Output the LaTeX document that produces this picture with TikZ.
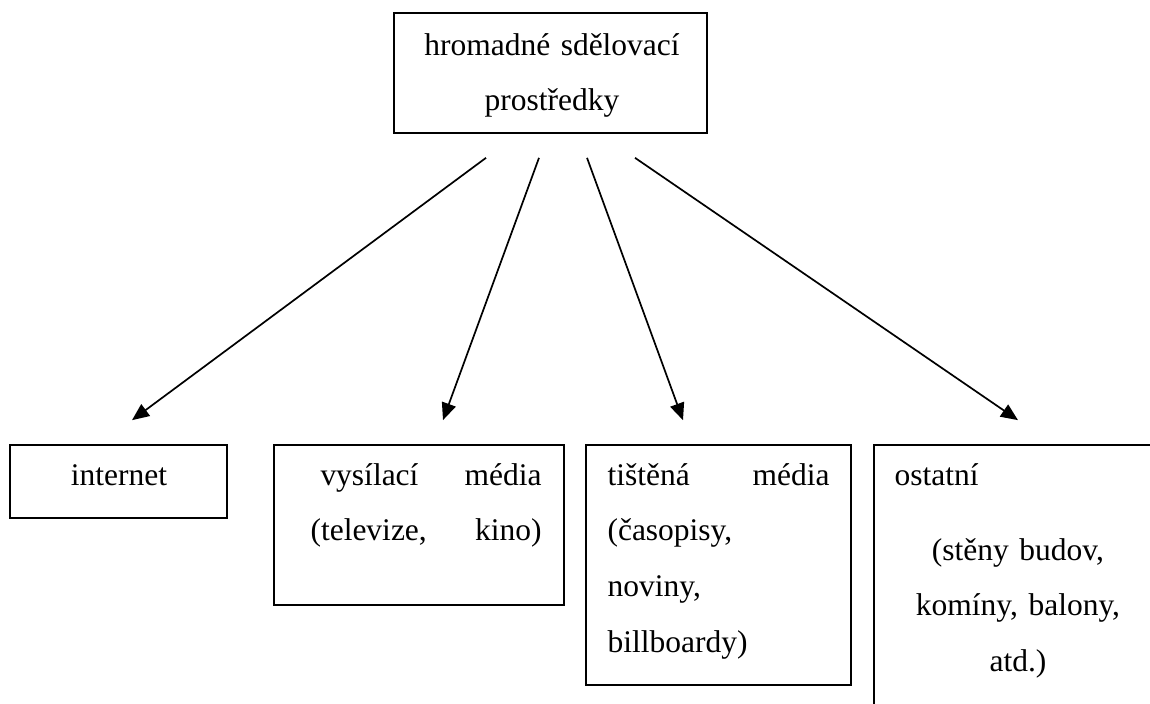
\documentclass[tikz,border=0pt]{standalone}
\usepackage{fontspec}
\setmainfont{Liberation Serif}
\usetikzlibrary{arrows.meta,calc}

\begin{document}
\begin{tikzpicture}[
    x=0.381pt, y=-0.381pt,
    >={Triangle[length=6.5pt,width=5.5pt]},
    media box/.style={draw=black,line width=0.65pt,inner sep=0pt},
    media text/.style={inner sep=0pt,anchor=base,font=\fontsize{12pt}{21.3pt}\selectfont},
    link/.style={->,line width=0.65pt}
]
\clip (0,0) rectangle (1150,704);

% Hlavni ramecek nahore
\node[media box,minimum width=119.3pt,minimum height=45.7pt] (top) at (550.5,73) {};
\node[media text,text width=110pt,align=center] (top text) at (552,55) {hromadné sdělovací\\prostředky};

% Ramecky dole
\node[media box,minimum width=82.7pt,minimum height=27.8pt] (internet) at (118.5,481.5) {};
\node[media box,minimum width=110.5pt,minimum height=61pt] (broadcast) at (419,525) {};
\node[media box,minimum width=101pt,minimum height=91.4pt] (print) at (718.5,565) {};
\node[media box,minimum width=116.6pt,minimum height=114.3pt] (other) at (1027,595) {};

% Texty v rameckach
\node[media text] (internet text) at (119,485) {internet};
\node[media text,anchor=base west,text width=88pt,align=left] (broadcast text) at (310,485)
    {\hspace*{3.8pt}vysílací\hfill média\\(televize,\hfill kino)};
\node[media text,anchor=base west,text width=84.6pt,align=left] (print text) at (607,485)
    {tištěná\hfill média\\(časopisy,\\noviny,\\billboardy)};
\node[media text,anchor=base west] (other title) at (894,485) {ostatní};
\node[media text,text width=90pt,align=center] (other text) at (1018,560) {(stěny budov,\\komíny, balony,\\atd.)};

% Sipky
\draw[link] ($(top.south)+(-64.5,24)$) -- ($(internet.north)+(13.5,-24)$);
\draw[link] ($(top.south)+(-11.5,24)$) -- ($(broadcast.north)+(24,-24)$);
\draw[link] ($(top.south)+(36.5,24)$) -- ($(print.north)+(-35.5,-24)$);
\draw[link] ($(top.south)+(84.5,24)$) -- ($(other.north)+(-9,-24)$);

\end{tikzpicture}
\end{document}
